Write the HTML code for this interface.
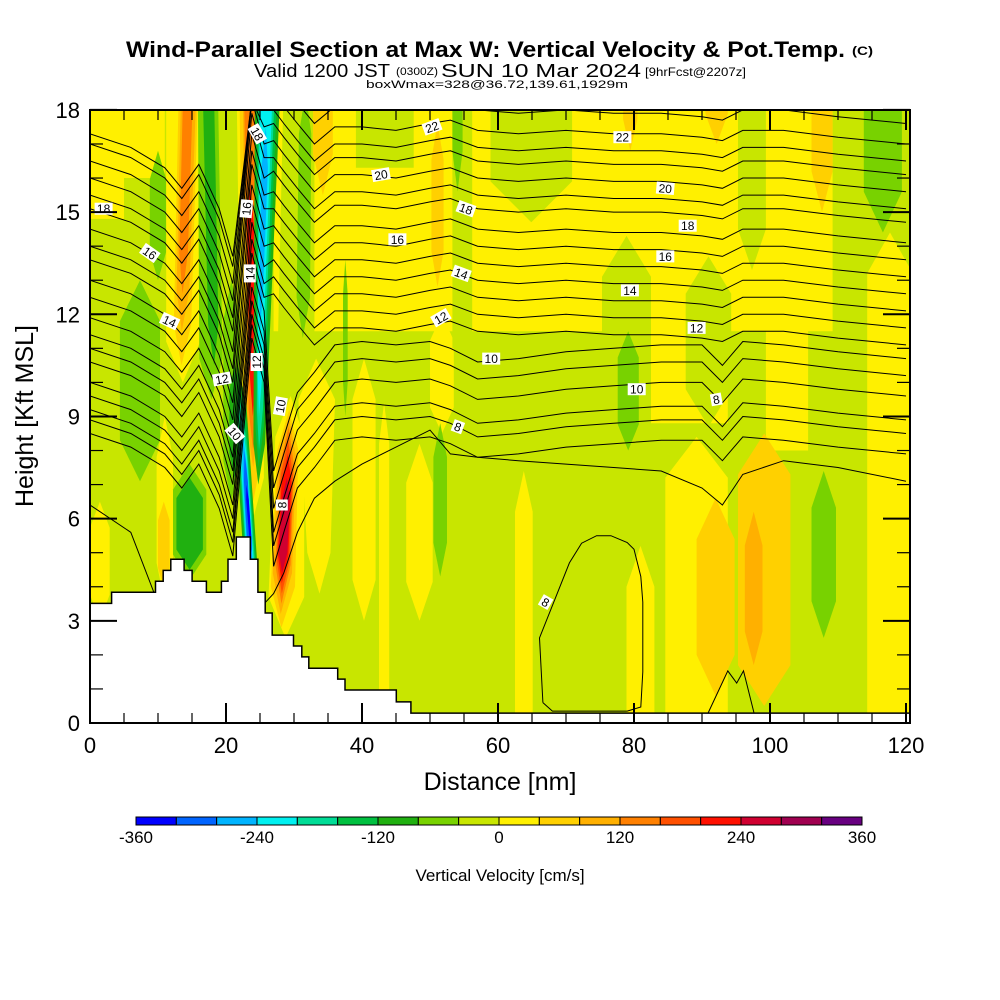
<!DOCTYPE html>
<html><head><meta charset="utf-8"><style>
html,body{margin:0;padding:0;background:#fff;}
svg{display:block;font-family:"Liberation Sans",Arial,sans-serif;}
</style></head><body>
<svg id="chart" width="1000" height="1000" viewBox="0 0 1000 1000" xmlns="http://www.w3.org/2000/svg">
<defs><clipPath id="plotclip"><rect x="90" y="110" width="820" height="613"/></clipPath></defs>
<rect x="0" y="0" width="1000" height="1000" fill="#fff"/>
<g>
<text x="126" y="57" font-size="22" font-weight="bold" textLength="719" lengthAdjust="spacingAndGlyphs">Wind-Parallel Section at Max W: Vertical Velocity &amp; Pot.Temp.</text>
<text x="852" y="55" font-size="12" font-weight="bold" textLength="21" lengthAdjust="spacingAndGlyphs">(C)</text>
</g>
<g>
<text x="254" y="77" font-size="18" textLength="136" lengthAdjust="spacingAndGlyphs">Valid 1200 JST</text>
<text x="396" y="75" font-size="11" textLength="42" lengthAdjust="spacingAndGlyphs">(0300Z)</text>
<text x="441" y="77" font-size="18" textLength="200" lengthAdjust="spacingAndGlyphs">SUN 10 Mar 2024</text>
<text x="645" y="76" font-size="12" textLength="101" lengthAdjust="spacingAndGlyphs">[9hrFcst@2207z]</text>
<text x="366" y="88" font-size="11" textLength="262" lengthAdjust="spacingAndGlyphs">boxWmax=328@36.72,139.61,1929m</text>
</g>
<g id="field" clip-path="url(#plotclip)"></g>
<g id="contours" clip-path="url(#plotclip)"></g>
<g id="terrain" clip-path="url(#plotclip)"></g>
<g id="clabels" clip-path="url(#plotclip)"></g>
<g id="axes"></g>
<g id="cbar"></g>
<text x="500" y="790" font-size="25" text-anchor="middle">Distance [nm]</text>
<text x="0" y="0" font-size="25" text-anchor="middle" transform="translate(33,416) rotate(-90)">Height [Kft MSL]</text>
<text x="500" y="881" font-size="17" text-anchor="middle">Vertical Velocity [cm/s]</text>
</svg>
<script>
// ---- data ----
const levelColors = ["#0000ff","#0064ff","#00b4ff","#00f0f0","#00dc96","#00c040","#20b010","#78d200","#c8e600","#fff000","#ffd000","#ffb000","#ff8000","#ff5000","#ff1000","#d00030","#a00050","#680080"];
const cbTicks = [-360,-240,-120,0,120,240,360];
const xTicks = [0,20,40,60,80,100,120];
const yTicks = [0,3,6,9,12,15,18];
const bgValue = -20;
// velocity features (nm / kft / cm/s)
const fVal = [20,20,20,20,20,20, -20,-20,-20,-20,-20,-20,-20,-20, -60,-60,-60,-60,-60, 20, 60,60,60,60,60, 20,20,20,20,60,60,100,-60,-60,20,20,20, -60,-60,20,20,60,60,100,140,-60,-100,-60,-100,-60,-100,20, 20,60,100,140,220, -100,-140,-180,-220,-260,-300,-340, -100,-140,-180,-220,-260, 20,60,100,140,180,220,260];
const fXb0 = [27,50,82.5,99.4,0,0, 27.5,39.1,53.3,58.9,75.3,87.6,95.3,109.2, 77.6,53.3,113.8,37.2,30.3, 114.3, 32.8,50.2,78.4,90.5,106.1, 42.5,62.5,78.9,84.6,89.2,95.3,96.3,106.1,50.5,32.3,38.6,46.5, 4.4,8.8,11.2,9.8,10,12.2,12.6,13.0,16.1,17.5,19.6,20.5,12.2,12.7,0, 22.4,22.8,23.2,23.4,23.6, 23.0,23.2,23.3,23.4,23.5,23.5,23.6, 24.0,24.3,24.5,24.6,24.8, 26.0,26.3,26.6,27.0,27.2,27.4,27.6];
const fXb1 = [121,53.5,93.8,105.6,11,5, 33,47.6,56.2,70.9,82.5,94.3,99.4,121, 80.7,54.8,119.4,37.9,32.3, 121, 35.7,52,80.5,93.8,109.2, 44,65.1,83,93.8,94.8,103,98.9,109.7,52.5,35.2,42,50.4, 10.3,11.2,16.1,12.2,11.7,14.7,14.4,14.2,19.6,19.0,22,22,17.1,16.6,2.9, 25.6,25.2,24.8,24.6,24.3, 25.0,24.8,24.6,24.4,24.2,24.0,23.9, 25.5,25.3,25.2,25.1,25.2, 31.5,30.0,29.5,29.3,29.2,29.0,28.9];
const fXt0 = [27,50,82.5,99.4,0,0, 28.5,39.1,53.3,58.9,75.3,87.6,95.3,109.2, 77.6,53.3,113.8,37.2,30.8, 114.3, 32.8,50.2,78.4,90.5,106.1, 42.5,62.5,78.9,84.6,89.2,95.3,96.3,106.1,50.5,30.3,38.6,46.5, 4.4,8.8,11.2,9.8,10,13.2,13.5,13.8,15.8,16.3,19.6,20.5,12.2,12.7,0, 21.4,21.8,22.3,22.6,23.0, 20.8,21.2,21.5,21.8,22.1,22.4,22.8, 24.3,24.6,24.9,25.1,25.3, 27.5,27.8,28.0,28.2,28.3,28.4,28.4];
const fXt1 = [121,53.5,93.8,105.6,11,5, 33,47.6,56.2,70.9,82.5,94.3,99.4,121, 80.7,54.8,119.4,37.9,32.6, 121, 35.7,52,80.5,93.8,109.2, 44,65.1,83,93.8,94.8,103,98.9,109.7,52.5,36.2,42,50.4, 10.3,11.2,17.1,12.2,11.7,16.1,15.8,15.3,18.6,18.0,22,22,17.1,16.6,2.9, 25.3,25.0,24.6,24.3,24.1, 22.6,22.6,22.6,22.7,22.8,23.0,23.2, 28.5,28.0,27.6,27.2,26.4, 31.5,30.8,30.5,30.2,30.0,29.8,29.5];
const fYb = [11.5,8.5,8.8,8,16,14.8, 10,16.3,11,14.7,7.6,8.7,13.3,7.6, 8.0,15.6,14.4,9,11.3, -1, 15.5,12.8,16.8,17,15, -1,-1,-1,-1,0.8,0.5,1.7,2.5,4.3,3.8,3,3, 7.1,13,10,3.5,4,10.5,11.5,12.6,9.5,10.5,6.5,7.2,4.2,4.5,3, 6,6.5,7.5,8,9, 3.5,3.6,3.7,3.7,3.7,3.8,5.0, 7,7.5,8,9,11.5, 2.5,2.8,3.2,3.5,3.8,4.1,4.4];
const fYt = [19,12,12,12,19,19, 19,19,19,21,14.3,13.7,21,21, 11.5,21,21,13.6,18.5, 14.4, 21,17.6,21,21,21, 9.4,7.4,5.2,8.4,6.6,8.5,6.2,7.4,8.8,10.7,10.7,8.2, 13,16.8,21,9,6.5,20,19.5,19.5,21,21,13,10.5,7.6,7.2,6.5, 21,21,21,19.5,15.8, 10.5,10,9.5,9,8.5,8,7, 21,21,21,20.5,17.5, 9.6,9.2,9.0,8.7,8.3,7.9,7.2];
const fShape = "rtrrrrrrrtttttttttttttttttttttttttttttttttttttttttttttttttttttttttttttttttt";
// terrain
const terrX = [0,3.18,9.63,10.76,11.88,13.84,15.01,17.12,19.32,20.29,21.52,23.57,24.69,25.77,26.8,29.93,31.15,32.18,36.43,37.5,45.04,47.19];
const terrH = [3.51,3.84,4.16,4.48,4.81,4.48,4.16,3.84,4.16,4.81,5.46,4.81,3.84,3.23,2.58,2.26,1.94,1.61,1.29,0.97,0.62,0.29];
// potential temperature contours (heights in kft at contourX)
const contourX = [0,6,11,13.5,16,19,21.0,23.8,25.6,27.0,28.5,30.5,33,36,40,45,50,53,57,63,70,77,84,90,93,96,102,110,120];
const theta0 = [6.4,5.6,3.0,3.0,3.0,3.0,3.0,3.0,3.5,3.8,4.4,5.6,6.6,7.1,7.6,8.1,8.6,7.9,7.8,7.7,7.6,7.5,7.4,6.9,6.4,7.3,7.7,7.5,7.1];
const theta1 = [8.5,8.1,7.5,6.9,7.6,6.3,4.9,11.3,10.0,4.6,5.6,6.9,7.5,8.3,8.4,8.3,8.4,8.2,7.8,7.9,8.1,8.2,8.3,8.3,7.7,8.4,8.3,8.1,7.9];
const theta2 = [8.9,8.5,7.9,7.3,8.0,6.7,5.3,11.7,10.4,5.2,6.2,7.5,8.1,8.9,9.0,8.9,9.0,8.8,8.4,8.5,8.7,8.8,8.9,8.9,8.3,9.0,8.9,8.7,8.5];
const theta3 = [9.2,8.8,8.2,7.6,8.3,7.0,5.6,12.0,10.7,5.6,6.6,7.9,8.5,9.3,9.4,9.3,9.4,9.2,8.8,8.9,9.1,9.2,9.3,9.3,8.7,9.4,9.3,9.1,8.9];
const theta4 = [9.6,9.2,8.6,8.0,8.7,7.4,6.0,12.4,11.1,6.3,7.3,8.6,9.2,10.0,10.1,10.0,10.1,9.9,9.5,9.6,9.8,9.9,10.0,10.0,9.4,10.1,10.0,9.8,9.6];
const theta5 = [10.0,9.6,9.0,8.4,9.1,7.8,6.4,12.8,11.5,6.9,7.9,9.2,9.8,10.6,10.7,10.6,10.7,10.5,10.1,10.2,10.4,10.5,10.6,10.6,10.0,10.7,10.6,10.4,10.2];
const theta6 = [10.6,10.2,9.6,9.0,9.7,8.4,7.0,13.4,12.1,7.4,8.4,9.7,10.3,11.1,11.2,11.1,11.2,11.0,10.6,10.7,10.9,11.0,11.1,11.1,10.5,11.2,11.1,10.9,10.7];
const theta7 = [11.0,10.6,10.0,9.4,10.1,8.8,7.4,13.8,12.5,12.6,12.2,11.7,11.1,11.6,11.6,11.5,11.7,11.8,11.5,11.4,11.5,11.4,11.4,11.3,11.2,11.5,11.5,11.3,11.1];
const theta8 = [11.4,11.0,10.4,9.8,10.5,9.2,7.8,14.2,12.9,13.1,12.7,12.2,11.6,12.1,12.1,12.0,12.2,12.3,12.0,11.9,12.0,11.9,11.9,11.8,11.7,12.0,12.0,11.8,11.6];
const theta9 = [11.9,11.5,10.9,10.3,11.0,9.7,8.3,14.7,13.4,13.6,13.2,12.7,12.1,12.6,12.6,12.5,12.7,12.8,12.5,12.4,12.5,12.4,12.4,12.3,12.2,12.5,12.5,12.3,12.1];
const theta10 = [12.5,12.1,11.5,10.9,11.6,10.3,8.9,15.3,14.0,14.1,13.7,13.2,12.6,13.1,13.1,13.0,13.2,13.3,13.0,12.9,13.0,12.9,12.9,12.8,12.7,13.0,13.0,12.8,12.6];
const theta11 = [13.0,12.6,12.0,11.4,12.1,10.8,9.4,15.8,14.5,14.6,14.2,13.7,13.1,13.6,13.6,13.5,13.7,13.8,13.5,13.4,13.5,13.4,13.4,13.3,13.2,13.5,13.5,13.3,13.1];
const theta12 = [13.6,13.2,12.6,12.0,12.7,11.4,10.0,16.4,15.1,15.1,14.7,14.2,13.6,14.1,14.1,14.0,14.2,14.3,14.0,13.9,14.0,13.9,13.9,13.8,13.7,14.0,14.0,13.8,13.6];
const theta13 = [14.0,13.6,13.0,12.4,13.1,11.8,10.4,16.8,15.5,15.6,15.2,14.7,14.1,14.6,14.6,14.5,14.7,14.8,14.5,14.4,14.5,14.4,14.4,14.3,14.2,14.5,14.5,14.3,14.1];
const theta14 = [14.5,14.1,13.5,12.9,13.6,12.3,10.9,17.3,16.0,16.2,15.8,15.3,14.7,15.2,15.2,15.1,15.3,15.4,15.1,15.0,15.1,15.0,15.0,14.9,14.8,15.1,15.1,14.9,14.7];
const theta15 = [15.1,14.7,14.1,13.5,14.2,12.9,11.5,17.9,16.6,16.6,16.2,15.7,15.1,15.6,15.6,15.5,15.7,15.8,15.5,15.4,15.5,15.4,15.4,15.3,15.2,15.5,15.5,15.3,15.1];
const theta16 = [15.5,15.1,14.5,13.9,14.6,13.3,11.9,18.3,17.0,17.1,16.7,16.2,15.6,16.1,16.1,16.0,16.2,16.3,16.0,15.9,16.0,15.9,15.9,15.8,15.7,16.0,16.0,15.8,15.6];
const theta17 = [16.0,15.6,15.0,14.4,15.1,13.8,12.4,18.3,17.5,17.6,17.2,16.7,16.1,16.6,16.6,16.5,16.7,16.8,16.5,16.4,16.5,16.4,16.4,16.3,16.2,16.5,16.5,16.3,16.1];
const theta18 = [16.5,16.1,15.5,14.9,15.6,14.3,12.9,18.3,18.0,18.0,17.6,17.1,16.5,17.0,17.0,16.9,17.1,17.2,16.9,16.8,16.9,16.8,16.8,16.7,16.6,16.9,16.9,16.7,16.5];
const theta19 = [17.0,16.6,16.0,15.4,16.1,14.8,13.4,18.3,18.3,18.5,18.1,17.6,17.0,17.5,17.5,17.4,17.6,17.7,17.4,17.3,17.4,17.3,17.3,17.2,17.1,17.4,17.4,17.2,17.0];
const theta20 = [17.3,16.9,16.3,15.7,16.4,15.1,13.7,18.3,18.3,19.1,18.7,18.2,17.6,18.1,18.1,18.0,18.2,18.3,18.0,17.9,18.0,17.9,17.9,17.8,17.7,18.0,18.0,17.8,17.6];
const loopX = [66.6,66.1,68.2,70.5,72.3,74.5,76.6,79,80,81,81.3,81.3,81,79,68,66.6];
const loopH = [0.6,2.5,3.55,4.7,5.28,5.5,5.5,5.3,5.1,4.3,3.55,1.5,0.47,0.35,0.35,0.6];
const bumpX = [90.8,93.8,95.1,96.1,97.7];
const bumpH = [0.25,1.53,1.17,1.53,0.25];
const labText = ["18","16","14","12","10","18","16","14","12","10","8","20","22","18","16","14","12","10","8","22","20","18","16","14","12","10","8","8"];
const labX = [2,8.8,11.7,19.4,21.3,24.6,23,23.5,24.5,28,28.2,42.8,50.3,55.3,45.2,54.6,51.6,59,54.1,78.3,84.6,87.9,84.6,79.4,89.2,80.4,92.1,67];
const labY = [15.1,13.8,11.8,10.1,8.5,17.3,15.1,13.2,10.6,9.3,6.4,16.1,17.5,15.1,14.2,13.2,11.9,10.7,8.7,17.2,15.7,14.6,13.7,12.7,11.6,9.8,9.5,3.55];
const labRot = [0,35,25,-10,50,60,-85,-90,-90,-80,-90,-10,-20,20,0,20,-30,0,20,0,5,0,0,0,0,0,-10,30];

// ---- rendering ----
const NS = "http://www.w3.org/2000/svg";
const X = v => 90 + v*6.8;
const Y = v => 723 - v*34.06;
const colorOf = v => levelColors[Math.max(0, Math.min(17, Math.floor((v+360)/40)))];
function mk(tag, attrs, parent){ const e=document.createElementNS(NS,tag); for(const k in attrs) e.setAttribute(k,attrs[k]); parent.appendChild(e); return e; }

const field = document.getElementById('field');
const bg = mk('rect',{x:90,y:110,width:820,height:613,fill:colorOf(bgValue)},field);


for(let i=0;i<fVal.length;i++){
  const yb=fYb[i], yt=fYt[i], h=yt-yb;
  let pts;
  if(fShape[i]==='r'){
    pts=[[fXb0[i],yb],[fXb1[i],yb],[fXt1[i],yt],[fXt0[i],yt]];
  } else {
    const tp=Math.min(0.22*h,1.2);
    const lx=(y)=>fXb0[i]+(fXt0[i]-fXb0[i])*(y-yb)/h;
    const rx=(y)=>fXb1[i]+(fXt1[i]-fXb1[i])*(y-yb)/h;
    pts=[[(fXb0[i]+fXb1[i])/2,yb],[rx(yb+tp),yb+tp],[rx(yt-tp),yt-tp],[(fXt0[i]+fXt1[i])/2,yt],[lx(yt-tp),yt-tp],[lx(yb+tp),yb+tp]];
  }
  const p=mk('polygon',{points:pts.map(q=>X(q[0]).toFixed(1)+','+Y(q[1]).toFixed(1)).join(' '),fill:colorOf(fVal[i])},field);
  
  
}

const cont = document.getElementById('contours');
const thetaLines=[theta0,theta1,theta2,theta3,theta4,theta5,theta6,theta7,theta8,theta9,theta10,theta11,theta12,theta13,theta14,theta15,theta16,theta17,theta18,theta19,theta20];
thetaLines.forEach((arr)=>{
  const pl=mk('polyline',{points:arr.map((h,j)=>X(contourX[j]).toFixed(1)+','+Y(h).toFixed(1)).join(' '),fill:'none',stroke:'#000','stroke-width':1},cont);
  
  
});
const lp=mk('polyline',{points:loopX.map((x,j)=>X(x).toFixed(1)+','+Y(loopH[j]).toFixed(1)).join(' '),fill:'none',stroke:'#000','stroke-width':1},cont);


const bp=mk('polyline',{points:bumpX.map((x,j)=>X(x).toFixed(1)+','+Y(bumpH[j]).toFixed(1)).join(' '),fill:'none',stroke:'#000','stroke-width':1},cont);



const terr = document.getElementById('terrain');
let tp=[[X(0),730]];
for(let i=0;i<terrX.length;i++){ const x0=X(terrX[i]), x1=X(i+1<terrX.length?terrX[i+1]:121); tp.push([x0,Y(terrH[i])]); tp.push([x1,Y(terrH[i])]); }
tp.push([X(121),730]);
const tg=mk('polygon',{points:tp.map(q=>q[0].toFixed(1)+','+q[1].toFixed(1)).join(' '),fill:'#fff',stroke:'#000','stroke-width':1.5},terr);



const cl=document.getElementById('clabels');
for(let i=0;i<labText.length;i++){
  const g=mk('g',{transform:`translate(${X(labX[i]).toFixed(1)},${Y(labY[i]).toFixed(1)}) rotate(${labRot[i]})`},cl);
  
  
  const w=labText[i].length*7+4;
  mk('rect',{x:-w/2,y:-6,width:w,height:12,fill:'#fff'},g);
  const t=mk('text',{x:0,y:4.5,'font-size':12,'text-anchor':'middle',fill:'#000'},g);
  t.textContent=labText[i];
}

const ax=document.getElementById('axes');
mk('rect',{x:90,y:110,width:820,height:613,fill:'none',stroke:'#000','stroke-width':2},ax);
for(let v=0; v<=120; v+=5){
  const major=v%20===0, L=major?20:10;
  mk('line',{x1:X(v),y1:723,x2:X(v),y2:723-L,stroke:'#000','stroke-width':major?2:1.2},ax);
  mk('line',{x1:X(v),y1:110,x2:X(v),y2:110+L,stroke:'#000','stroke-width':major?2:1.2},ax);
}
for(let v=0; v<=18; v+=1){
  const major=v%3===0, L=major?27:13;
  mk('line',{x1:90,y1:Y(v),x2:90+L,y2:Y(v),stroke:'#000','stroke-width':major?2:1.2},ax);
  mk('line',{x1:910,y1:Y(v),x2:910-L,y2:Y(v),stroke:'#000','stroke-width':major?2:1.2},ax);
}
xTicks.forEach(v=>{ const t=mk('text',{x:X(v),y:753,'font-size':22,'text-anchor':'middle'},ax);   t.textContent=v; });
yTicks.forEach(v=>{ const t=mk('text',{x:80,y:Y(v)+8,'font-size':22,'text-anchor':'end'},ax);   t.textContent=v; });

const cb=document.getElementById('cbar');
const cbx0=136, cbw=(862-136)/18;
levelColors.forEach((c,i)=>{
  const r=mk('rect',{x:cbx0+i*cbw,y:817,width:cbw,height:8,fill:c,stroke:'#000','stroke-width':1},cb);
  
  
});
cbTicks.forEach(v=>{ const t=mk('text',{x:cbx0+(v+360)/720*(862-136),y:843,'font-size':17,'text-anchor':'middle'},cb);   t.textContent=v; });
</script>
</body></html>
